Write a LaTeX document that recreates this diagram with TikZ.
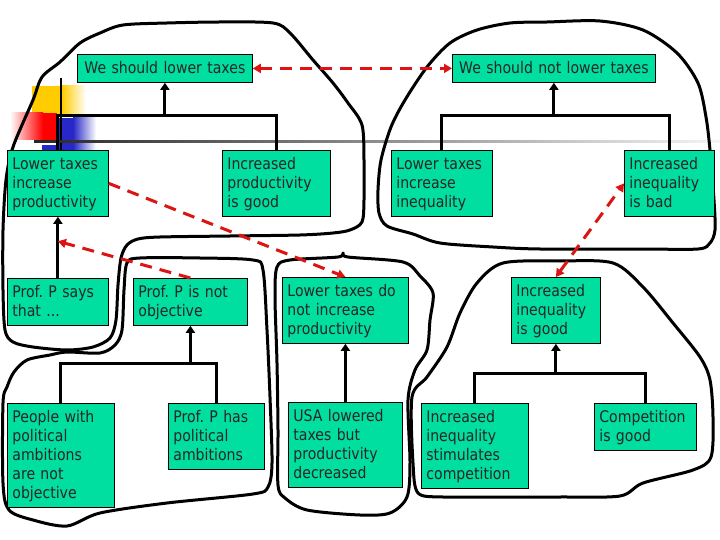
\documentclass[tikz,border=0pt]{standalone}
\usepackage{fontspec}
\setmainfont{DejaVu Sans}[FakeStretch=0.88]
\usetikzlibrary{arrows.meta,calc}
\definecolor{boxgreen}{RGB}{0,222,160}
\definecolor{dred}{RGB}{220,20,20}
\definecolor{tyellow}{RGB}{255,204,0}
\definecolor{tblue}{RGB}{40,40,200}
\begin{document}
\begin{tikzpicture}[x=1pt,y=-1pt,
  box/.style={draw=black, line width=0.8pt, fill=boxgreen, anchor=north west, align=left,
    inner xsep=5pt, inner ysep=4.5pt, font=\fontsize{16}{19}\selectfont, text=black!85,
    execute at begin node={\rule{0pt}{14.6pt}}, execute at end node={\rule[-4.4pt]{0pt}{4.4pt}}},
  tree/.style={line width=3pt},
  treearrow/.style={line width=3pt, -{Triangle[length=7pt,width=9pt]}},
  outline/.style={line width=3pt, line join=round},
  redline/.style={draw=dred, line width=3pt, dash pattern=on 12pt off 8pt},
  redtip/.style={-{Triangle[length=8pt,width=9pt]}},
  redtips/.style={{Triangle[length=8pt,width=9pt]}-{Triangle[length=8pt,width=9pt]}}
]
\useasboundingbox (0,0) rectangle (720,540);
\fill[white] (0,0) rectangle (720,540);

% template decoration
\fill[tyellow] (32,86) rectangle (62,114);
\shade[left color=tyellow, right color=white] (62,86) rectangle (86,114);
\shade[left color=white, right color=red] (10,113) rectangle (43,140);
\fill[red] (43,113) rectangle (57,140);
\fill[tblue] (59,118) rectangle (73,150);
\shade[left color=tblue, right color=white] (73,118) rectangle (96,150);
\fill[tblue] (42,145) rectangle (57,150);
\draw[line width=2pt] (61,78) -- (61,150);
\shade[left color=black!85, middle color=black!45, right color=black!4] (34,140.5) rectangle (720,143);

% hand-drawn outlines
\draw[outline] plot[smooth cycle, tension=0.5] coordinates {(13,147) (33,100) (42,77) (60,62) (80,43) (100,33) (123,25) (167,23) (220,22) (273,23) (290,33) (313,60) (333,83) (348,103) (362,125) (364,160) (364,200) (362,222) (350,230) (333,233) (300,235) (230,236) (160,237) (138,239) (127,245) (121,258) (118,285) (116,320) (110,338) (93,347) (67,350) (33,347) (13,342) (5,330) (3,290) (3,230) (6,180)};
\draw[outline] plot[smooth cycle, tension=0.5] coordinates {(387,226) (379,213) (378,190) (381,160) (391,127) (405,100) (427,67) (450,43) (477,30) (510,23) (547,22) (600,21) (643,30) (677,53) (698,83) (706,117) (710,150) (714,200) (715,230) (710,243) (698,249) (640,249) (540,249) (493,247) (440,243) (413,234)};
\draw[outline] plot[smooth cycle, tension=0.5] coordinates {(127,263) (140,258) (200,258) (253,260) (263,270) (267,330) (270,397) (272,463) (268,487) (253,494) (167,503) (100,513) (67,526) (33,520) (9,510) (3,483) (3,403) (7,387) (14,372) (27,360) (50,355) (67,352) (100,353) (115,345) (122,330) (124,290)};
\draw[outline] plot[smooth cycle, tension=0.5] coordinates {(277,267) (290,260) (338,257) (343,253) (348,257) (403,262) (420,276) (433,293) (430,320) (427,350) (415,370) (408,400) (410,463) (407,497) (390,513) (360,515) (307,510) (285,498) (278,485) (278,430) (277,363) (275,297)};
\draw[outline] plot[smooth cycle, tension=0.5] coordinates {(503,263) (560,261) (613,263) (643,287) (673,323) (700,357) (710,380) (713,417) (711,457) (693,470) (643,483) (620,496) (560,497) (493,497) (443,497) (418,493) (413,463) (412,397) (427,377) (447,347) (460,313) (477,283)};

% boxes
\node[box, text width=165pt, align=center] (top1) at (77,54) {We should lower taxes};
\node[box, text width=193pt, align=center] (top2) at (452,54) {We should not lower taxes};
\node[box, text width=91pt] (ltip) at (7,150) {Lower taxes\\increase\\productivity};
\node[box, text width=98pt] (ipg) at (222,150) {Increased\\productivity\\is good};
\node[box, text width=91pt] (ltii) at (391,150) {Lower taxes\\increase\\inequality};
\node[box, text width=80pt] (iib) at (624,150) {Increased\\inequality\\is bad};
\node[box, text width=91pt] (pps) at (7,278) {Prof.\ P says\\that ...};
\node[box, text width=104pt] (ppno) at (133,278) {Prof.\ P is not\\objective};
\node[box, text width=116pt] (ltdn) at (282,277) {Lower taxes do\\not increase\\productivity};
\node[box, text width=79pt] (iig) at (511,277) {Increased\\inequality\\is good};
\node[box, text width=97pt] (pwpa) at (7,403) {People with\\political\\ambitions\\are not\\objective};
\node[box, text width=86pt] (pphpa) at (168,403) {Prof.\ P has\\political\\ambitions};
\node[box, text width=104pt] (usa) at (288,402) {USA lowered\\taxes but\\productivity\\decreased};
\node[box, text width=97pt] (iisc) at (421,403) {Increased\\inequality\\stimulates\\competition};
\node[box, text width=92pt] (cig) at (594,403) {Competition\\is good};

% junctions
\coordinate (j1) at (top1.south |- 0,116);
\coordinate (j2) at (top2.south |- 0,116);
\coordinate (j3) at (ppno.south |- 0,363);
\coordinate (j4) at (iig.south |- 0,373);
\coordinate (pm) at ($(pps.north)!0.6!(ltip.south)$);

% black connectors
\draw[tree] (ltip.north) |- (j1) -| (ipg.north);
\draw[treearrow] (j1) -- (top1.south);
\draw[tree] (ltii.north) |- (j2) -| (iib.north);
\draw[treearrow] (j2) -- (top2.south);
\draw[tree] (pwpa.north) |- (j3) -| (pphpa.north);
\draw[treearrow] (j3) -- (ppno.south);
\draw[tree] (iisc.north) |- (j4) -| (cig.north);
\draw[treearrow] (j4) -- (iig.south);
\draw[treearrow] (pps.north) -- (ltip.south);
\draw[treearrow] (usa.north) -- (ltdn.south);

% red dashed connectors
\draw[redline, redtips, dred] (top1.east) -- (top2.west);
\draw[redline, redtip, dred] (ltip.east) -- (ltdn.north);
\draw[redline, redtip, dred] (ppno.north) -- (pm);
\draw[redline, redtips, dred] (iig.north) -- (iib.west);
\end{tikzpicture}
\end{document}
